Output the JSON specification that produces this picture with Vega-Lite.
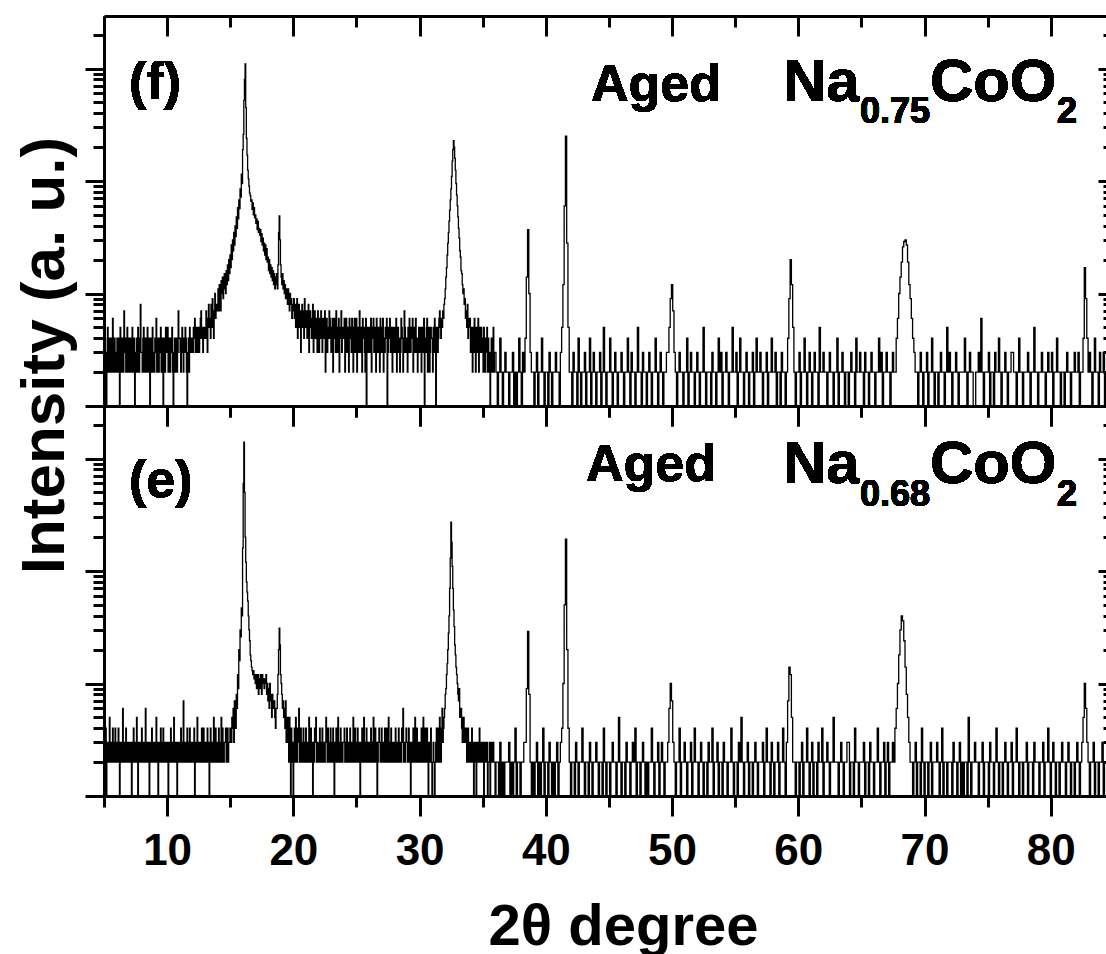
{
"$schema": "https://vega.github.io/schema/vega-lite/v6.json",
"padding": {"left": 12, "top": 14, "right": 0, "bottom": 0},
"bounds": "flush",
"spacing": 0,
"config": {"font": "Liberation Sans", "view": {"stroke": null}, "axis": {"grid": false, "domainColor": "black", "domainWidth": 3, "tickColor": "black", "tickWidth": 3, "labelColor": "black", "titleColor": "black"}},
"data": {"format": {"type": "csv", "parse": {"x": "number", "f": "number", "e": "number"}}, "values": "x,f,e\n5,3,2\n5.05,2,3\n5.1,4,2\n5.15,3,4\n5.2,1,1\n5.25,3,3\n5.3,5,2\n5.35,2,3\n5.4,3,2\n5.45,4,5\n5.5,2,3\n5.55,4,2\n5.6,3,3\n5.65,2,2\n5.7,6,4\n5.75,3,3\n5.8,2,2\n5.85,4,3\n5.9,3,4\n5.95,2,2\n6,2,3\n6.05,4,2\n6.1,3,3\n6.15,2,4\n6.2,4,2\n6.25,1,1\n6.3,5,3\n6.35,3,2\n6.4,2,3\n6.45,4,2\n6.5,3,6\n6.55,2,3\n6.6,7,2\n6.65,3,3\n6.7,4,2\n6.75,2,4\n6.8,3,3\n6.85,5,2\n6.9,2,3\n6.95,3,2\n7,4,2\n7.05,2,3\n7.1,3,2\n7.15,4,3\n7.2,2,1\n7.25,5,2\n7.3,3,3\n7.35,2,4\n7.4,4,2\n7.45,1,3\n7.5,2,2\n7.55,3,3\n7.6,4,5\n7.65,2,2\n7.7,5,1\n7.75,3,3\n7.8,2,2\n7.85,4,3\n7.9,8,2\n7.95,3,3\n8,3,4\n8.05,2,2\n8.1,4,3\n8.15,5,2\n8.2,2,3\n8.25,3,2\n8.3,4,6\n8.35,2,2\n8.4,3,3\n8.45,5,2\n8.5,2,2\n8.55,3,3\n8.6,4,1\n8.65,1,2\n8.7,3,3\n8.75,4,2\n8.8,2,4\n8.85,5,3\n8.9,3,2\n8.95,2,3\n9,2,2\n9.05,4,3\n9.1,3,2\n9.15,6,5\n9.2,2,3\n9.25,3,2\n9.3,4,1\n9.35,2,3\n9.4,3,2\n9.45,4,3\n9.5,5,4\n9.55,2,2\n9.6,3,3\n9.65,4,2\n9.7,1,4\n9.75,3,3\n9.8,4,2\n9.85,2,3\n9.9,5,2\n9.95,3,2\n10,3,3\n10.05,5,2\n10.1,2,1\n10.15,4,3\n10.2,3,2\n10.25,2,3\n10.3,4,4\n10.35,3,2\n10.4,5,3\n10.45,2,2\n10.5,1,2\n10.55,3,5\n10.6,4,3\n10.65,2,2\n10.7,3,3\n10.75,4,2\n10.8,2,1\n10.85,3,3\n10.9,7,2\n10.95,4,3\n11,4,2\n11.05,3,3\n11.1,2,4\n11.15,4,2\n11.2,5,3\n11.25,3,2\n11.3,2,7\n11.35,4,3\n11.4,3,2\n11.45,5,3\n11.5,4,3\n11.55,2,2\n11.6,1,4\n11.65,3,3\n11.7,4,2\n11.75,2,3\n11.8,5,4\n11.85,3,2\n11.9,4,3\n11.95,3,2\n12,4,3\n12.05,3,2\n12.1,5,2\n12.15,4,4\n12.2,6,1\n12.25,3,3\n12.3,4,2\n12.35,5,3\n12.4,3,5\n12.45,4,2\n12.5,5,3\n12.55,3,2\n12.6,4,3\n12.65,6,2\n12.7,7,2\n12.75,4,4\n12.8,5,3\n12.85,3,2\n12.9,4,4\n12.95,5,3\n13,5,2\n13.05,4,3\n13.1,7,2\n13.15,5,3\n13.2,3,4\n13.25,6,2\n13.3,8,3\n13.35,5,1\n13.4,6,2\n13.45,4,4\n13.5,8,3\n13.55,5,2\n13.6,9,2\n13.65,6,3\n13.7,4,5\n13.75,7,2\n13.8,10,3\n13.85,6,4\n13.9,8,2\n13.95,7,3\n14,8,3\n14.05,11,2\n14.1,7,4\n14.15,12,3\n14.2,9,2\n14.25,7,3\n14.3,13,5\n14.35,10,2\n14.4,14,4\n14.45,9,3\n14.5,12,2\n14.55,15,3\n14.6,11,3\n14.65,10,4\n14.7,16,2\n14.75,12,3\n14.8,18,4\n14.85,13,2\n14.9,20,3\n14.95,15,3\n15,22,4\n15.05,17,3\n15.1,27,3\n15.15,20,5\n15.2,30,4\n15.25,24,6\n15.3,35,3\n15.35,27,7\n15.4,40,5\n15.45,32,4\n15.5,48,8\n15.55,38,6\n15.6,58,12\n15.65,46,9\n15.7,68,20\n15.75,57,16\n15.8,85,30\n15.85,72,26\n15.9,115,47\n15.95,95,40\n16,190,160\n16.05,260,600\n16.1,520,1400\n16.15,800,500\n16.2,1100,200\n16.25,450,120\n16.3,240,80\n16.35,170,65\n16.4,125,54\n16.45,105,40\n16.5,90,30\n16.55,78,24\n16.6,74,18\n16.65,66,16\n16.7,68,14\n16.75,56,13\n16.8,64,12\n16.85,50,13\n16.9,58,11\n16.95,47,12\n17,50,10\n17.05,42,12\n17.1,46,9\n17.15,37,11\n17.2,44,12\n17.25,35,8\n17.3,38,11\n17.35,33,9\n17.4,37,12\n17.45,29,10\n17.5,34,8\n17.55,27,12\n17.6,31,10\n17.65,24,11\n17.7,28,9\n17.75,22,10\n17.8,27,11\n17.85,20,12\n17.9,25,8\n17.95,19,10\n18,21,7\n18.05,16,9\n18.1,20,6\n18.15,15,10\n18.2,18,8\n18.25,14,7\n18.3,17,5\n18.35,13,8\n18.4,16,7\n18.45,12,6\n18.5,15,7\n18.55,11,5\n18.6,14,4\n18.65,12,6\n18.7,15,6\n18.75,11,8\n18.8,18,12\n18.85,35,20\n18.9,49,31\n18.95,30,22\n19,18,12\n19.05,14,10\n19.1,12,8\n19.15,15,6\n19.2,11,7\n19.25,13,5\n19.3,10,6\n19.35,12,4\n19.4,9,7\n19.45,11,3\n19.5,10,4\n19.55,8,5\n19.6,11,3\n19.65,9,2\n19.7,7,5\n19.75,10,3\n19.8,8,1\n19.85,9,4\n19.9,6,2\n19.95,8,3\n20,7,1\n20.05,9,3\n20.1,6,4\n20.15,8,2\n20.2,5,5\n20.25,7,3\n20.3,9,2\n20.35,4,4\n20.4,6,3\n20.45,8,6\n20.5,5,2\n20.55,7,3\n20.6,3,4\n20.65,6,2\n20.7,8,3\n20.75,5,2\n20.8,7,4\n20.85,4,3\n20.9,9,2\n20.95,6,3\n21,5,4\n21.05,7,2\n21.1,4,3\n21.15,6,2\n21.2,8,3\n21.25,3,5\n21.3,5,2\n21.35,7,3\n21.4,6,4\n21.45,4,2\n21.5,6,3\n21.55,8,1\n21.6,3,3\n21.65,5,2\n21.7,7,4\n21.75,4,3\n21.8,6,5\n21.85,5,2\n21.9,3,3\n21.95,7,2\n22,5,3\n22.05,3,2\n22.1,6,4\n22.15,4,3\n22.2,7,2\n22.25,5,3\n22.3,3,4\n22.35,6,2\n22.4,4,3\n22.45,5,2\n22.5,7,2\n22.55,2,3\n22.6,5,5\n22.65,6,3\n22.7,3,2\n22.75,5,4\n22.8,4,3\n22.85,7,2\n22.9,6,3\n22.95,4,4\n23,3,2\n23.05,5,3\n23.1,6,2\n23.15,2,4\n23.2,4,3\n23.25,6,1\n23.3,5,3\n23.35,3,2\n23.4,7,4\n23.45,4,3\n23.5,3,2\n23.55,5,5\n23.6,6,3\n23.65,2,2\n23.7,5,3\n23.75,4,4\n23.8,7,2\n23.85,3,3\n23.9,5,2\n23.95,4,3\n24,4,3\n24.05,6,4\n24.1,2,2\n24.15,5,3\n24.2,6,2\n24.25,3,4\n24.3,5,3\n24.35,4,2\n24.4,2,2\n24.45,6,3\n24.5,4,4\n24.55,5,2\n24.6,3,3\n24.65,6,2\n24.7,4,3\n24.75,2,5\n24.8,5,2\n24.85,6,3\n24.9,3,4\n24.95,5,2\n25,6,2\n25.05,2,3\n25.1,5,4\n25.15,3,2\n25.2,4,3\n25.25,7,2\n25.3,3,1\n25.35,5,3\n25.4,4,2\n25.45,2,4\n25.5,6,3\n25.55,4,2\n25.6,5,5\n25.65,3,3\n25.7,2,2\n25.75,6,3\n25.8,1,4\n25.85,4,2\n25.9,5,3\n25.95,3,2\n26,5,3\n26.05,3,2\n26.1,4,2\n26.15,6,4\n26.2,2,3\n26.25,4,2\n26.3,5,3\n26.35,6,5\n26.4,3,2\n26.45,4,3\n26.5,5,4\n26.55,2,2\n26.6,6,3\n26.65,4,1\n26.7,3,2\n26.75,5,3\n26.8,4,4\n26.85,2,3\n26.9,6,2\n26.95,5,3\n27,3,4\n27.05,5,2\n27.1,6,3\n27.15,2,2\n27.2,4,3\n27.25,3,4\n27.3,5,2\n27.35,4,3\n27.4,6,4\n27.45,1,2\n27.5,3,3\n27.55,5,5\n27.6,4,2\n27.65,6,3\n27.7,3,2\n27.75,5,4\n27.8,4,3\n27.85,2,2\n27.9,5,3\n27.95,3,2\n28,5,2\n28.05,3,3\n28.1,4,4\n28.15,6,2\n28.2,2,3\n28.25,4,2\n28.3,5,2\n28.35,3,4\n28.4,4,3\n28.45,2,2\n28.5,3,3\n28.55,6,2\n28.6,5,4\n28.65,4,3\n28.7,2,6\n28.75,3,2\n28.8,7,3\n28.85,5,2\n28.9,3,3\n28.95,4,4\n29,4,3\n29.05,2,2\n29.1,5,3\n29.15,3,4\n29.2,6,2\n29.25,4,3\n29.3,3,1\n29.35,5,2\n29.4,4,3\n29.45,6,2\n29.5,2,4\n29.55,4,3\n29.6,5,2\n29.65,3,5\n29.7,6,3\n29.75,4,2\n29.8,3,4\n29.85,2,3\n29.9,4,2\n29.95,5,3\n30,3,2\n30.05,5,3\n30.1,4,2\n30.15,2,4\n30.2,5,3\n30.25,4,2\n30.3,3,5\n30.35,6,3\n30.4,1,2\n30.45,4,4\n30.5,3,3\n30.55,5,2\n30.6,6,4\n30.65,2,2\n30.7,4,1\n30.75,5,3\n30.8,2,2\n30.85,3,3\n30.9,5,4\n30.95,4,2\n31,4,1\n31.05,2,2\n31.1,5,3\n31.15,3,2\n31.2,6,1\n31.25,4,2\n31.3,1,3\n31.35,5,4\n31.4,5,2\n31.45,3,3\n31.5,4,4\n31.55,6,2\n31.6,7,5\n31.65,5,3\n31.7,4,2\n31.75,6,4\n31.8,5,6\n31.85,7,3\n31.9,6,4\n31.95,8,5\n32,9,6\n32.05,11,8\n32.1,14,9\n32.15,17,12\n32.2,22,15\n32.25,28,20\n32.3,35,28\n32.35,44,40\n32.4,55,70\n32.45,68,130\n32.5,85,272\n32.55,110,180\n32.6,150,110\n32.65,190,70\n32.7,228,45\n32.75,200,32\n32.8,160,22\n32.85,125,18\n32.9,95,14\n32.95,75,12\n33,60,10\n33.05,48,8\n33.1,38,7\n33.15,31,9\n33.2,24,5\n33.25,21,6\n33.3,16,6\n33.35,15,4\n33.4,12,3\n33.45,10,5\n33.5,11,5\n33.55,8,3\n33.6,9,3\n33.65,6,4\n33.7,7,4\n33.75,5,2\n33.8,8,3\n33.85,4,4\n33.9,6,2\n33.95,5,3\n34,6,3\n34.05,3,2\n34.1,4,2\n34.15,5,4\n34.2,2,3\n34.25,5,2\n34.3,3,1\n34.35,6,3\n34.4,4,2\n34.45,2,3\n34.5,5,1\n34.55,3,2\n34.6,4,3\n34.65,6,2\n34.7,2,2\n34.75,5,4\n34.8,3,3\n34.85,4,2\n34.9,5,2\n34.95,3,3\n35,4,2\n35.05,2,3\n35.1,5,1\n35.15,3,2\n35.2,2,3\n35.25,4,2\n35.3,3,2\n35.35,5,3\n35.4,2,1\n35.45,4,2\n35.5,3,2\n35.55,2,3\n35.6,1,1\n35.65,3,2\n35.7,4,3\n35.75,2,2\n35.8,3,2\n35.85,5,3\n35.9,2,2\n35.95,3,2\n36,3,1\n36.1,2,2\n36.2,1,2\n36.3,2,1\n36.4,4,3\n36.5,2,1\n36.6,1,2\n36.7,2,1\n36.8,3,2\n36.9,2,2\n37,2,2\n37.1,1,3\n37.2,2,1\n37.3,2,2\n37.4,3,1\n37.5,1,2\n37.6,2,4\n37.7,1,1\n37.8,2,2\n37.9,4,2\n38,2,1\n38.1,1,2\n38.2,3,2\n38.3,2,3\n38.4,4,3\n38.5,14,9\n38.6,37,29\n38.7,10,8\n38.8,3,2\n38.9,2,1\n39,2,2\n39.1,1,1\n39.2,2,2\n39.3,3,3\n39.4,1,1\n39.5,2,2\n39.6,2,1\n39.7,4,2\n39.8,2,4\n39.9,1,1\n40,2,2\n40.1,2,2\n40.2,1,1\n40.3,3,3\n40.4,2,2\n40.5,1,1\n40.6,2,2\n40.7,2,1\n40.8,3,2\n40.9,2,3\n41,2,1\n41.1,1,2\n41.2,3,3\n41.3,5,4\n41.4,12,10\n41.5,60,50\n41.6,250,192\n41.7,28,20\n41.8,5,4\n41.9,2,2\n42,2,1\n42.1,1,2\n42.2,3,2\n42.3,2,1\n42.4,2,3\n42.5,1,2\n42.6,4,1\n42.7,2,2\n42.8,1,2\n42.9,2,4\n43,2,2\n43.1,3,1\n43.2,1,2\n43.3,2,2\n43.4,2,1\n43.5,4,3\n43.6,1,2\n43.7,2,1\n43.8,3,2\n43.9,2,2\n44,1,3\n44.1,2,2\n44.2,2,1\n44.3,3,2\n44.4,1,2\n44.5,2,1\n44.6,5,4\n44.7,2,2\n44.8,1,1\n44.9,2,2\n45,2,2\n45.1,4,1\n45.2,2,2\n45.3,1,3\n45.4,2,2\n45.5,3,2\n45.6,2,1\n45.7,1,2\n45.8,2,5\n45.9,2,2\n46,3,1\n46.1,2,2\n46.2,1,2\n46.3,2,1\n46.4,2,3\n46.5,4,2\n46.6,2,2\n46.7,1,1\n46.8,3,2\n46.9,2,3\n47,2,2\n47.1,1,4\n47.2,2,1\n47.3,5,2\n47.4,2,2\n47.5,2,1\n47.6,1,2\n47.7,3,3\n47.8,2,2\n47.9,2,1\n48,1,2\n48.1,2,1\n48.2,3,2\n48.3,2,2\n48.4,1,4\n48.5,2,2\n48.6,2,1\n48.7,4,2\n48.8,2,2\n48.9,1,3\n49,2,1\n49.1,3,2\n49.2,2,3\n49.3,1,2\n49.4,2,1\n49.5,2,2\n49.6,3,2\n49.7,3,3\n49.8,5,6\n49.9,9,10\n50,12,7\n50.1,7,3\n50.2,3,2\n50.3,2,1\n50.4,1,2\n50.5,2,2\n50.6,3,4\n50.7,2,1\n50.8,2,2\n50.9,1,2\n51,2,3\n51.1,2,2\n51.2,4,1\n51.3,1,2\n51.4,2,2\n51.5,3,3\n51.6,2,1\n51.7,2,2\n51.8,1,4\n51.9,2,2\n52,3,2\n52.1,2,1\n52.2,1,2\n52.3,2,3\n52.4,2,2\n52.5,5,1\n52.6,2,2\n52.7,1,2\n52.8,2,1\n52.9,2,3\n53,2,2\n53.1,1,2\n53.2,3,4\n53.3,2,1\n53.4,2,2\n53.5,1,2\n53.6,2,3\n53.7,4,1\n53.8,2,2\n53.9,3,2\n54,1,1\n54.1,2,3\n54.2,2,2\n54.3,3,2\n54.4,2,1\n54.5,1,2\n54.6,2,2\n54.7,2,4\n54.8,5,2\n54.9,2,1\n55,2,2\n55.1,3,2\n55.2,1,1\n55.3,2,3\n55.4,4,2\n55.5,2,5\n55.6,2,2\n55.7,1,1\n55.8,2,2\n55.9,3,2\n56,2,3\n56.1,1,1\n56.2,2,2\n56.3,2,2\n56.4,3,1\n56.5,1,2\n56.6,2,3\n56.7,4,2\n56.8,2,1\n56.9,2,2\n57,3,2\n57.1,2,2\n57.2,1,3\n57.3,2,1\n57.4,2,2\n57.5,3,4\n57.6,1,2\n57.7,2,2\n57.8,2,1\n57.9,4,3\n58,2,2\n58.1,2,1\n58.2,3,2\n58.3,1,2\n58.4,2,3\n58.5,2,1\n58.6,1,2\n58.7,3,2\n58.8,2,4\n58.9,2,2\n59,1,1\n59.1,2,3\n59.2,4,7\n59.3,9,14\n59.4,20,12\n59.5,12,5\n59.6,5,2\n59.7,2,2\n59.8,1,1\n59.9,2,2\n60,2,2\n60.1,3,1\n60.2,1,2\n60.3,2,3\n60.4,2,1\n60.5,4,2\n60.6,2,2\n60.7,1,4\n60.8,2,2\n60.9,3,1\n61,2,2\n61.1,1,3\n61.2,2,1\n61.3,3,2\n61.4,2,2\n61.5,2,1\n61.6,1,3\n61.7,5,2\n61.8,2,2\n61.9,2,4\n62,3,1\n62.1,2,2\n62.2,2,2\n62.3,1,3\n62.4,2,2\n62.5,3,1\n62.6,2,2\n62.7,2,2\n62.8,1,5\n62.9,2,2\n63,2,2\n63.1,4,2\n63.2,1,1\n63.3,2,2\n63.4,2,3\n63.5,3,2\n63.6,2,1\n63.7,1,2\n63.8,2,2\n63.9,2,3\n64,1,3\n64.1,2,1\n64.2,3,2\n64.3,2,2\n64.4,2,1\n64.5,1,4\n64.6,4,2\n64.7,2,2\n64.8,2,1\n64.9,3,2\n65,2,2\n65.1,2,2\n65.2,1,3\n65.3,3,1\n65.4,2,2\n65.5,2,2\n65.6,1,1\n65.7,2,3\n65.8,3,2\n65.9,2,2\n66,2,1\n66.1,1,2\n66.2,2,2\n66.3,2,4\n66.4,4,2\n66.5,2,1\n66.6,3,2\n66.7,1,2\n66.8,2,3\n66.9,2,1\n67,3,2\n67.1,2,3\n67.2,2,1\n67.3,1,2\n67.4,2,2\n67.5,3,3\n67.6,2,2\n67.7,2,4\n67.8,4,6\n67.9,6,10\n68,10,18\n68.1,14,30\n68.2,19,40\n68.3,26,36\n68.4,29,24\n68.5,30,14\n68.6,27,8\n68.7,19,5\n68.8,12,3\n68.9,9,2\n69,6,2\n69.1,4,1\n69.2,3,2\n69.3,2,3\n69.4,2,1\n69.5,1,2\n69.6,2,2\n69.7,3,1\n69.8,2,4\n69.9,1,2\n70,2,1\n70.1,2,2\n70.2,3,2\n70.3,1,1\n70.4,2,2\n70.5,2,3\n70.6,4,1\n70.7,2,2\n70.8,1,2\n70.9,2,2\n71,2,3\n71.1,1,2\n71.2,2,1\n71.3,3,2\n71.4,2,4\n71.5,2,1\n71.6,1,2\n71.7,2,2\n71.8,5,1\n71.9,2,2\n72,3,2\n72.1,2,2\n72.2,1,1\n72.3,2,3\n72.4,2,2\n72.5,3,2\n72.6,2,1\n72.7,1,2\n72.8,2,3\n72.9,2,1\n73,2,2\n73.1,2,1\n73.2,4,2\n73.3,2,2\n73.4,1,1\n73.5,2,5\n73.6,3,2\n73.7,2,1\n73.8,2,2\n73.9,1,2\n74,1,3\n74.1,2,2\n74.2,2,2\n74.3,3,1\n74.4,2,2\n74.5,6,2\n74.6,2,3\n74.7,1,1\n74.8,2,2\n74.9,2,2\n75,2,2\n75.1,3,1\n75.2,1,3\n75.3,2,2\n75.4,2,2\n75.5,1,1\n75.6,3,2\n75.7,2,4\n75.8,2,2\n75.9,4,1\n76,2,2\n76.1,1,2\n76.2,2,1\n76.3,2,2\n76.4,3,3\n76.5,2,2\n76.6,1,1\n76.7,2,2\n76.8,2,2\n76.9,3,3\n77,3,1\n77.1,2,2\n77.2,2,2\n77.3,1,4\n77.4,2,2\n77.5,4,1\n77.6,2,2\n77.7,2,2\n77.8,1,1\n77.9,2,2\n78,2,2\n78.1,2,3\n78.2,3,1\n78.3,2,2\n78.4,1,2\n78.5,2,2\n78.6,2,1\n78.7,5,3\n78.8,2,2\n78.9,2,2\n79,1,2\n79.1,2,1\n79.2,2,2\n79.3,3,2\n79.4,2,3\n79.5,2,1\n79.6,1,2\n79.7,2,2\n79.8,3,4\n79.9,2,2\n80,2,1\n80.1,3,2\n80.2,1,3\n80.3,2,2\n80.4,2,1\n80.5,4,2\n80.6,2,2\n80.7,2,1\n80.8,1,2\n80.9,2,3\n81,2,2\n81.1,1,2\n81.2,2,1\n81.3,3,2\n81.4,2,3\n81.5,2,2\n81.6,1,1\n81.7,2,2\n81.8,2,2\n81.9,3,1\n82,2,2\n82.1,2,3\n82.2,3,2\n82.3,1,1\n82.4,2,2\n82.5,2,3\n82.6,4,5\n82.7,17,10\n82.8,9,6\n82.9,4,3\n83,2,2\n83.1,3,1\n83.2,2,2\n83.3,1,2\n83.4,2,3\n83.5,4,1\n83.6,2,2\n83.7,2,2\n83.8,1,1\n83.9,3,2\n84,2,2\n84.1,2,3\n84.2,3,1\n84.3,1,2\n84.4,2,2\n84.5,2,1\n84.6,4,2\n84.7,2,4\n84.8,1,2\n84.9,2,2\n85,2,2"},
"vconcat": [
{
"width": 1003, "height": 390,
"layer": [
{"mark": {"type": "line", "interpolate": "step", "clip": true, "color": "black", "strokeWidth": 1.3},
 "encoding": {
  "x": {"field": "x", "type": "quantitative", "scale": {"domain": [5, 84.45], "nice": false, "zero": false}, "axis": {"orient": "bottom", "title": null, "values": [5,10,15,20,25,30,35,40,45,50,55,60,65,70,75,80], "labels": false, "tickSize": {"condition": {"test": "datum.value % 10 == 0", "value": 20}, "value": 11}}},
  "y": {"field": "f", "type": "quantitative", "scale": {"type": "log", "domain": [1, 2930], "nice": false}, "axis": {"orient": "left", "values": [1,2,3,4,5,6,7,8,9,10,20,30,40,50,60,70,80,90,100,200,300,400,500,600,700,800,900,1000,2000], "labels": false, "tickSize": {"condition": {"test": "datum.value == 1 || datum.value == 10 || datum.value == 100 || datum.value == 1000", "value": 19}, "value": 11}, "title": "Intensity (a. u.)", "titleFont": "Liberation Sans", "titleFontSize": 62, "titleFontWeight": "bold", "titleAngle": 270, "titleX": -41, "titleY": 339, "titleAlign": "center", "titleBaseline": "alphabetic"}}
 }},
{"mark": {"type": "line", "interpolate": "step", "clip": true, "strokeOpacity": 0},
 "encoding": {
  "x": {"field": "x", "type": "quantitative", "scale": {"domain": [5, 84.45], "nice": false, "zero": false}, "axis": {"orient": "top", "title": null, "values": [5,10,15,20,25,30,35,40,45,50,55,60,65,70,75,80], "labels": false, "tickSize": {"condition": {"test": "datum.value % 10 == 0", "value": -20}, "value": -11}}},
  "y": {"field": "f", "type": "quantitative", "scale": {"type": "log", "domain": [1, 2930], "nice": false}, "axis": {"orient": "right", "title": null, "domain": false, "values": [1,2,3,4,5,6,7,8,9,10,20,30,40,50,60,70,80,90,100,200,300,400,500,600,700,800,900,1000,2000], "labels": false, "tickSize": {"condition": {"test": "datum.value == 1 || datum.value == 10 || datum.value == 100 || datum.value == 1000", "value": -9}, "value": -4}}}
 }},
{"mark": {"type": "text", "align": "left", "baseline": "alphabetic", "fontSize": 52, "fontWeight": "bold", "color": "black"},
 "encoding": {"x": {"datum": 6.98, "type": "quantitative", "axis": null}, "y": {"datum": 536, "type": "quantitative", "axis": null}, "text": {"value": "(f)"}}},
{"mark": {"type": "text", "align": "left", "baseline": "alphabetic", "fontSize": 52, "fontWeight": "bold", "color": "black"},
 "encoding": {"x": {"datum": 43.57, "type": "quantitative", "axis": null}, "y": {"datum": 514, "type": "quantitative", "axis": null}, "text": {"value": "Aged"}}},
{"mark": {"type": "text", "align": "left", "baseline": "alphabetic", "fontSize": 60, "fontWeight": "bold", "color": "black"},
 "encoding": {"x": {"datum": 58.78, "type": "quantitative", "axis": null}, "y": {"datum": 514, "type": "quantitative", "axis": null}, "text": {"value": "Na"}}},
{"mark": {"type": "text", "align": "left", "baseline": "alphabetic", "fontSize": 36, "fontWeight": "bold", "color": "black"},
 "encoding": {"x": {"datum": 64.88, "type": "quantitative", "axis": null}, "y": {"datum": 328, "type": "quantitative", "axis": null}, "text": {"value": "0.75"}}},
{"mark": {"type": "text", "align": "left", "baseline": "alphabetic", "fontSize": 60, "fontWeight": "bold", "color": "black"},
 "encoding": {"x": {"datum": 70.42, "type": "quantitative", "axis": null}, "y": {"datum": 514, "type": "quantitative", "axis": null}, "text": {"value": "CoO"}}},
{"mark": {"type": "text", "align": "left", "baseline": "alphabetic", "fontSize": 36, "fontWeight": "bold", "color": "black"},
 "encoding": {"x": {"datum": 80.48, "type": "quantitative", "axis": null}, "y": {"datum": 328, "type": "quantitative", "axis": null}, "text": {"value": "2"}}}
],
"resolve": {"axis": {"x": "independent", "y": "independent"}}
},
{
"width": 1003, "height": 390,
"layer": [
{"mark": {"type": "line", "interpolate": "step", "clip": true, "color": "black", "strokeWidth": 1.3},
 "encoding": {
  "x": {"field": "x", "type": "quantitative", "scale": {"domain": [5, 84.45], "nice": false, "zero": false}, "axis": {"orient": "bottom", "values": [5,10,15,20,25,30,35,40,45,50,55,60,65,70,75,80], "labels": true, "labelExpr": "datum.value % 10 == 0 ? datum.label : ''", "labelFont": "Liberation Sans", "labelFontSize": 44, "labelFontWeight": "bold", "labelBaseline": "alphabetic", "labelPadding": 48, "labelFlush": false, "labelOverlap": false, "tickSize": {"condition": {"test": "datum.value % 10 == 0", "value": 20}, "value": 11}, "title": "2θ degree", "titleFont": "Liberation Sans", "titleFontSize": 58, "titleFontWeight": "bold", "titleX": 519, "titleY": 148, "titleAlign": "center", "titleBaseline": "alphabetic"}},
  "y": {"field": "e", "type": "quantitative", "scale": {"type": "log", "domain": [1, 2930], "nice": false}, "axis": {"orient": "left", "title": null, "values": [1,2,3,4,5,6,7,8,9,10,20,30,40,50,60,70,80,90,100,200,300,400,500,600,700,800,900,1000,2000], "labels": false, "tickSize": {"condition": {"test": "datum.value == 1 || datum.value == 10 || datum.value == 100 || datum.value == 1000", "value": 19}, "value": 11}}}
 }},
{"mark": {"type": "line", "interpolate": "step", "clip": true, "strokeOpacity": 0},
 "encoding": {
  "x": {"field": "x", "type": "quantitative", "scale": {"domain": [5, 84.45], "nice": false, "zero": false}, "axis": {"orient": "top", "title": null, "values": [5,10,15,20,25,30,35,40,45,50,55,60,65,70,75,80], "labels": false, "tickSize": {"condition": {"test": "datum.value % 10 == 0", "value": -20}, "value": -11}}},
  "y": {"field": "e", "type": "quantitative", "scale": {"type": "log", "domain": [1, 2930], "nice": false}, "axis": {"orient": "right", "title": null, "domain": false, "values": [1,2,3,4,5,6,7,8,9,10,20,30,40,50,60,70,80,90,100,200,300,400,500,600,700,800,900,1000,2000], "labels": false, "tickSize": {"condition": {"test": "datum.value == 1 || datum.value == 10 || datum.value == 100 || datum.value == 1000", "value": -9}, "value": -4}}}
 }},
{"mark": {"type": "text", "align": "left", "baseline": "alphabetic", "fontSize": 52, "fontWeight": "bold", "color": "black"},
 "encoding": {"x": {"datum": 6.98, "type": "quantitative", "axis": null}, "y": {"datum": 455, "type": "quantitative", "axis": null}, "text": {"value": "(e)"}}},
{"mark": {"type": "text", "align": "left", "baseline": "alphabetic", "fontSize": 52, "fontWeight": "bold", "color": "black"},
 "encoding": {"x": {"datum": 43.18, "type": "quantitative", "axis": null}, "y": {"datum": 631, "type": "quantitative", "axis": null}, "text": {"value": "Aged"}}},
{"mark": {"type": "text", "align": "left", "baseline": "alphabetic", "fontSize": 60, "fontWeight": "bold", "color": "black"},
 "encoding": {"x": {"datum": 58.78, "type": "quantitative", "axis": null}, "y": {"datum": 606, "type": "quantitative", "axis": null}, "text": {"value": "Na"}}},
{"mark": {"type": "text", "align": "left", "baseline": "alphabetic", "fontSize": 36, "fontWeight": "bold", "color": "black"},
 "encoding": {"x": {"datum": 64.88, "type": "quantitative", "axis": null}, "y": {"datum": 378, "type": "quantitative", "axis": null}, "text": {"value": "0.68"}}},
{"mark": {"type": "text", "align": "left", "baseline": "alphabetic", "fontSize": 60, "fontWeight": "bold", "color": "black"},
 "encoding": {"x": {"datum": 70.42, "type": "quantitative", "axis": null}, "y": {"datum": 606, "type": "quantitative", "axis": null}, "text": {"value": "CoO"}}},
{"mark": {"type": "text", "align": "left", "baseline": "alphabetic", "fontSize": 36, "fontWeight": "bold", "color": "black"},
 "encoding": {"x": {"datum": 80.48, "type": "quantitative", "axis": null}, "y": {"datum": 378, "type": "quantitative", "axis": null}, "text": {"value": "2"}}}
],
"resolve": {"axis": {"x": "independent", "y": "independent"}}
}
]
}
